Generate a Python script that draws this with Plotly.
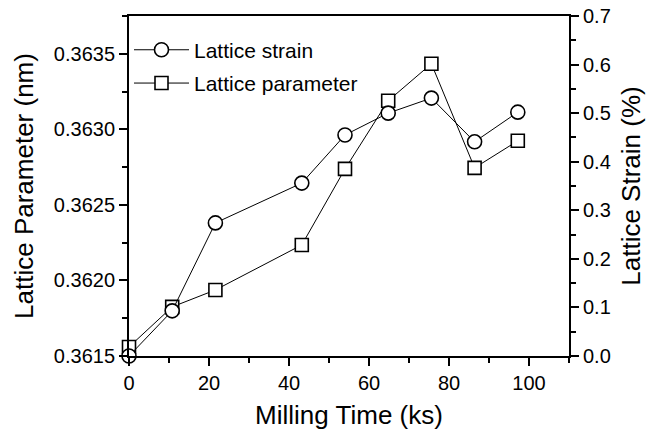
import plotly.graph_objects as go

milling_time = [0, 10.8, 21.6, 43.2, 54.0, 64.8, 75.6, 86.4, 97.2]
lattice_strain = [0.0, 0.093, 0.274, 0.356, 0.455, 0.500, 0.531, 0.441, 0.502]
lattice_param = [0.36156, 0.361825, 0.361937, 0.362235, 0.362738, 0.363189, 0.363434, 0.362745, 0.362924]

FONT = "Liberation Sans, Arial, Helvetica, sans-serif"

fig = go.Figure()
fig.add_trace(go.Scatter(
    x=milling_time, y=lattice_param, name="Lattice parameter",
    mode="lines+markers", yaxis="y", legendrank=2, legendgroup="b",
    line=dict(color="black", width=1),
    marker=dict(symbol="square", size=13, color="white", line=dict(color="black", width=1.6)),
    cliponaxis=False,
))
fig.add_trace(go.Scatter(
    x=milling_time, y=lattice_strain, name="Lattice strain",
    mode="lines+markers", yaxis="y2", legendrank=1, legendgroup="a",
    line=dict(color="black", width=1),
    marker=dict(symbol="circle", size=14, color="white", line=dict(color="black", width=1.6)),
    cliponaxis=False,
))

axis_common = dict(
    showgrid=False, zeroline=False, showline=True, linecolor="black", linewidth=2,
    ticks="outside", ticklen=8, tickwidth=1.5, tickcolor="black", automargin=False,
    tickfont=dict(family=FONT, size=20, color="black"),
)

fig.update_layout(
    width=648, height=432,
    margin=dict(l=129, r=79, t=16, b=76),
    paper_bgcolor="white", plot_bgcolor="white",
    font=dict(family=FONT, color="black"),
    showlegend=True,
    legend=dict(x=0.0, y=0.96, xanchor="left", yanchor="top",
                font=dict(family=FONT, size=21, color="black"),
                bgcolor="rgba(0,0,0,0)", itemwidth=55, tracegroupgap=3),
    xaxis=dict(**axis_common, range=[0, 110], dtick=20, tick0=0, mirror=True,
               minor=dict(dtick=10, ticks="outside", ticklen=5, tickwidth=1.5, tickcolor="black"),
               title=dict(text="Milling Time (ks)", font=dict(family=FONT, size=26), standoff=13)),
    yaxis=dict(**axis_common, range=[0.3615, 0.36375], dtick=0.0005, tick0=0.3615, tickformat=".4f",
               minor=dict(dtick=0.00025, ticks="outside", ticklen=5, tickwidth=1.5, tickcolor="black"),
               title=dict(text="Lattice Parameter (nm)", font=dict(family=FONT, size=26), standoff=13)),
    yaxis2=dict(**axis_common, range=[0, 0.7], dtick=0.1, tick0=0, tickformat=".1f",
                overlaying="y", side="right",
                minor=dict(dtick=0.05, ticks="outside", ticklen=5, tickwidth=1.5, tickcolor="black"),
                title=dict(text="Lattice Strain (%)", font=dict(family=FONT, size=26), standoff=12)),
)

fig.write_html("out.html")
